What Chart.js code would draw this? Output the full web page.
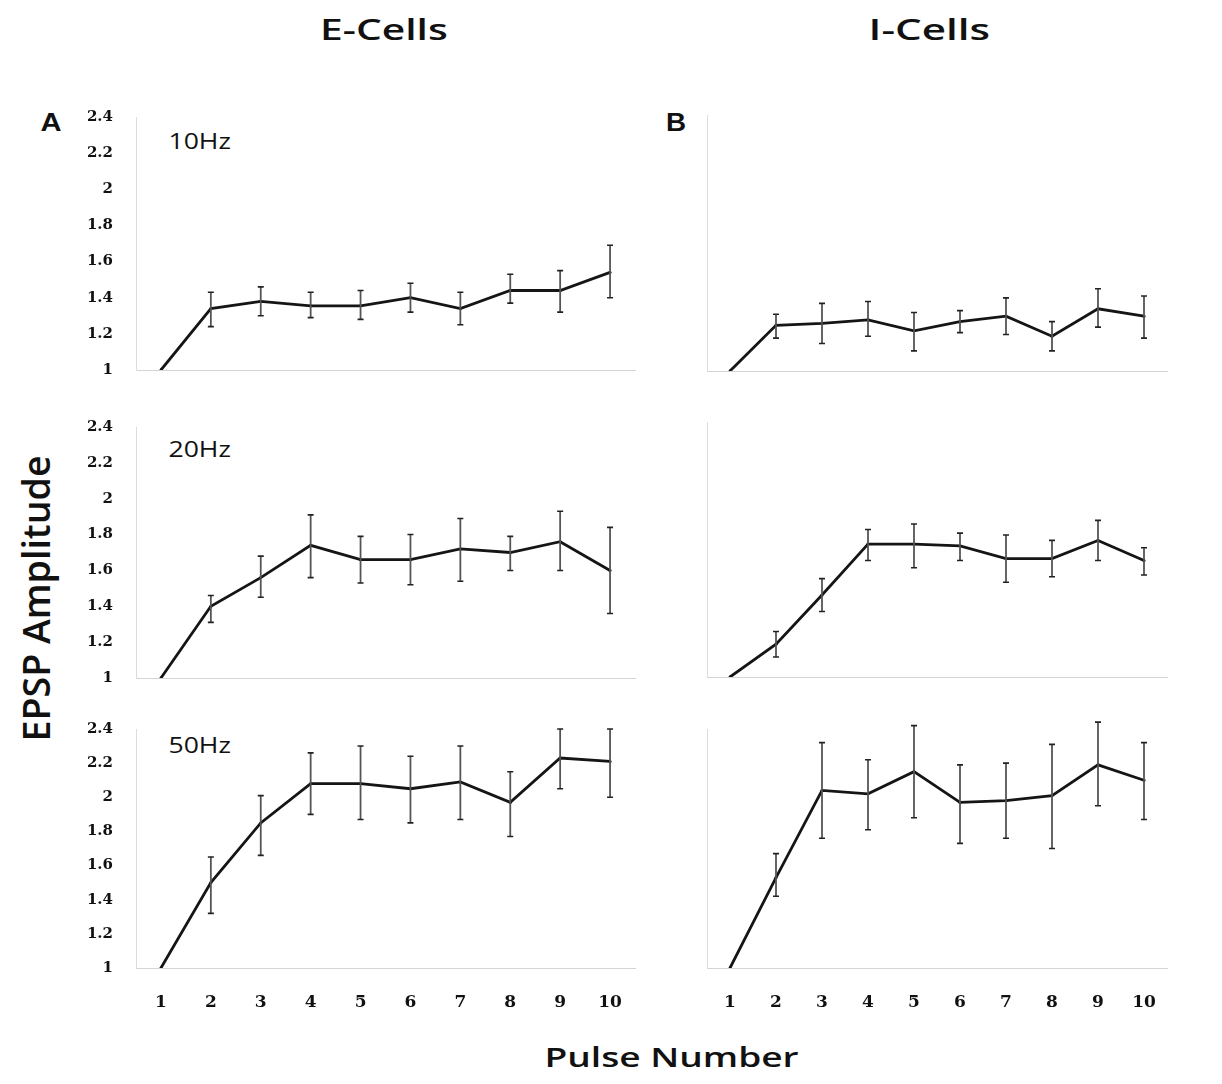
<!DOCTYPE html>
<html><head><meta charset="utf-8">
<script src="https://cdn.jsdelivr.net/npm/chart.js@4.4.1/dist/chart.umd.min.js"></script>
<style>
html,body{margin:0;padding:0;background:#fff;}
#wrap{position:relative;width:1222px;height:1084px;overflow:hidden;}
canvas{position:absolute;}
.t{position:absolute;font-family:"Open Sans",Lato,sans-serif;font-weight:600;color:#111;white-space:nowrap;line-height:1;}
.lab{font-family:"Liberation Sans",Arial,sans-serif;font-weight:bold;}
</style></head><body>
<div id="wrap">
  <div class="t" data-cx="384" data-cy="29" data-w="128" data-r="0" style="font-size:28px;">E-Cells</div>
  <div class="t" data-cx="929" data-cy="29" data-w="122" data-r="0" style="font-size:28px;">I-Cells</div>
  <div class="t" data-cx="35" data-cy="598" data-w="286" data-r="-90" style="font-size:37px;">EPSP Amplitude</div>
  <div class="t" data-cx="671" data-cy="1056" data-w="254" data-r="0" style="font-size:27px;">Pulse Number</div>
  <div class="t lab" data-cx="51" data-cy="122" data-w="21" data-r="0" style="font-size:25px;">A</div>
  <div class="t lab" data-cx="676" data-cy="122" data-w="20" data-r="0" style="font-size:25px;">B</div>
  <div class="t" data-cx="199" data-cy="141" data-w="62" data-r="0" style="font-size:21px;font-weight:400;">10Hz</div>
  <div class="t" data-cx="199" data-cy="449" data-w="62" data-r="0" style="font-size:21px;font-weight:400;">20Hz</div>
  <div class="t" data-cx="199" data-cy="745" data-w="62" data-r="0" style="font-size:21px;font-weight:400;">50Hz</div>
  <canvas id="cA1"></canvas><canvas id="cA2"></canvas><canvas id="cA3"></canvas>
  <canvas id="cB1"></canvas><canvas id="cB2"></canvas><canvas id="cB3"></canvas>
</div>
<script>
const pulses = ['1','2','3','4','5','6','7','8','9','10'];
const yTicks = [1, 1.2, 1.4, 1.6, 1.8, 2, 2.2, 2.4];

const e10Mean  = [1, 1.34, 1.38, 1.355, 1.355, 1.40, 1.34, 1.44, 1.44, 1.54];
const e10Upper = [null, 1.43, 1.46, 1.43, 1.44, 1.48, 1.43, 1.53, 1.55, 1.69];
const e10Lower = [null, 1.24, 1.30, 1.29, 1.28, 1.32, 1.25, 1.37, 1.32, 1.40];

const e20Mean  = [1, 1.40, 1.56, 1.74, 1.66, 1.66, 1.72, 1.70, 1.76, 1.60];
const e20Upper = [null, 1.46, 1.68, 1.91, 1.79, 1.80, 1.89, 1.79, 1.93, 1.84];
const e20Lower = [null, 1.31, 1.45, 1.56, 1.53, 1.52, 1.54, 1.60, 1.60, 1.36];

const e50Mean  = [1, 1.50, 1.85, 2.08, 2.08, 2.05, 2.09, 1.97, 2.23, 2.21];
const e50Upper = [null, 1.65, 2.01, 2.26, 2.30, 2.24, 2.30, 2.15, 2.40, 2.40];
const e50Lower = [null, 1.32, 1.66, 1.90, 1.87, 1.85, 1.87, 1.77, 2.05, 2.00];

const i10Mean  = [1, 1.25, 1.26, 1.28, 1.22, 1.27, 1.30, 1.19, 1.34, 1.30];
const i10Upper = [null, 1.31, 1.37, 1.38, 1.32, 1.33, 1.40, 1.27, 1.45, 1.41];
const i10Lower = [null, 1.18, 1.15, 1.19, 1.11, 1.21, 1.20, 1.11, 1.24, 1.18];

const i20Mean  = [1, 1.18, 1.45, 1.73, 1.73, 1.72, 1.65, 1.65, 1.75, 1.64];
const i20Upper = [null, 1.25, 1.54, 1.81, 1.84, 1.79, 1.78, 1.75, 1.86, 1.71];
const i20Lower = [null, 1.11, 1.36, 1.64, 1.60, 1.64, 1.52, 1.55, 1.64, 1.56];

const i50Mean  = [1, 1.53, 2.04, 2.02, 2.15, 1.97, 1.98, 2.01, 2.19, 2.10];
const i50Upper = [null, 1.67, 2.32, 2.22, 2.42, 2.19, 2.20, 2.31, 2.44, 2.32];
const i50Lower = [null, 1.42, 1.76, 1.81, 1.88, 1.73, 1.76, 1.70, 1.95, 1.87];

function fitTexts() {
  document.querySelectorAll('.t').forEach(el => {
    el.style.transform = 'none';
    const w = el.offsetWidth, h = el.offsetHeight;
    const s = (+el.dataset.w) / w;
    el.style.left = (+el.dataset.cx - w / 2) + 'px';
    el.style.top = (+el.dataset.cy - h / 2) + 'px';
    el.style.transform = 'rotate(' + el.dataset.r + 'deg) scaleX(' + s + ')';
  });
}
fitTexts();
if (document.fonts && document.fonts.ready) document.fonts.ready.then(fitTexts);

const errorBars = {
  id: 'errorBars',
  afterDatasetsDraw(chart) {
    const ds = chart.data.datasets[0];
    const xs = chart.scales.x, ys = chart.scales.y;
    const ctx = chart.ctx;
    ctx.save();
    ds.upper.forEach((u, i) => {
      const l = ds.lower[i];
      if (u == null || l == null) return;
      const x = xs.getPixelForValue(i);
      const yu = ys.getPixelForValue(u), yl = ys.getPixelForValue(l);
      ctx.strokeStyle = '#555';
      ctx.lineWidth = 1.8;
      ctx.beginPath();
      ctx.moveTo(x, yu); ctx.lineTo(x, yl);
      ctx.stroke();
      ctx.strokeStyle = '#222';
      ctx.lineWidth = 1.6;
      ctx.beginPath();
      ctx.moveTo(x - 3, yu); ctx.lineTo(x + 3, yu);
      ctx.moveTo(x - 3, yl); ctx.lineTo(x + 3, yl);
      ctx.stroke();
    });
    ctx.restore();
  }
};

const tickFont = "'DejaVu Serif', serif";

function panel(id, plot, mean, upper, lower, showY, showX) {
  const yw = 110;
  const cx = plot.left - yw, cy = plot.top - 10;
  const cw = plot.right - cx + 10;
  const bottomH = showX ? 50 : 10;
  const ch = plot.bottom - cy + bottomH;
  const cv = document.getElementById(id);
  cv.style.left = cx + 'px'; cv.style.top = cy + 'px';
  cv.width = cw; cv.height = ch;
  cv.style.width = cw + 'px'; cv.style.height = ch + 'px';
  new Chart(cv, {
    type: 'line',
    data: { labels: pulses, datasets: [{
      data: mean, upper: upper, lower: lower,
      borderColor: '#151515', borderWidth: 2.8, pointRadius: 1.5,
      pointBackgroundColor: '#111', pointBorderWidth: 0, tension: 0
    }]},
    options: {
      responsive: false, animation: false, events: [],
      layout: { padding: { top: plot.top - cy, right: cx + cw - plot.right, left: 0, bottom: 0 } },
      plugins: { legend: { display: false }, tooltip: { enabled: false } },
      scales: {
        x: {
          offset: true,
          grid: { display: false, drawTicks: false },
          border: { display: true, color: '#d4d4d4', width: 1, dash: [1, 3] },
          ticks: { display: showX, padding: 24, color: '#111', maxRotation: 0,
                   font: { family: tickFont, weight: 'bold', size: 17 } },
          afterFit(s) { s.height = bottomH; s.paddingLeft = 0; s.paddingRight = 0; }
        },
        y: {
          min: 1, max: 2.4,
          afterBuildTicks(s) { s.ticks = yTicks.map(v => ({ value: v })); },
          grid: { display: false, drawTicks: false },
          border: { display: true, color: '#dcdcdc', width: 1, dash: [1, 3] },
          ticks: { display: showY, padding: 23, color: '#111',
                   font: { family: tickFont, weight: 'bold', size: 15 },
                   callback: v => String(Math.round(v * 10) / 10) },
          afterFit(s) { s.width = yw; s.paddingTop = 0; s.paddingBottom = 0; }
        }
      }
    },
    plugins: [errorBars]
  });
}

panel('cA1', {left:136, right:635, top:117, bottom:370}, e10Mean, e10Upper, e10Lower, true, false);
panel('cA2', {left:136, right:635, top:427, bottom:678}, e20Mean, e20Upper, e20Lower, true, false);
panel('cA3', {left:136, right:635, top:729, bottom:968}, e50Mean, e50Upper, e50Lower, true, true);
panel('cB1', {left:707, right:1167, top:115, bottom:371}, i10Mean, i10Upper, i10Lower, false, false);
panel('cB2', {left:707, right:1167, top:422, bottom:677}, i20Mean, i20Upper, i20Lower, false, false);
panel('cB3', {left:707, right:1167, top:729, bottom:968}, i50Mean, i50Upper, i50Lower, false, true);
</script>
</body></html>
